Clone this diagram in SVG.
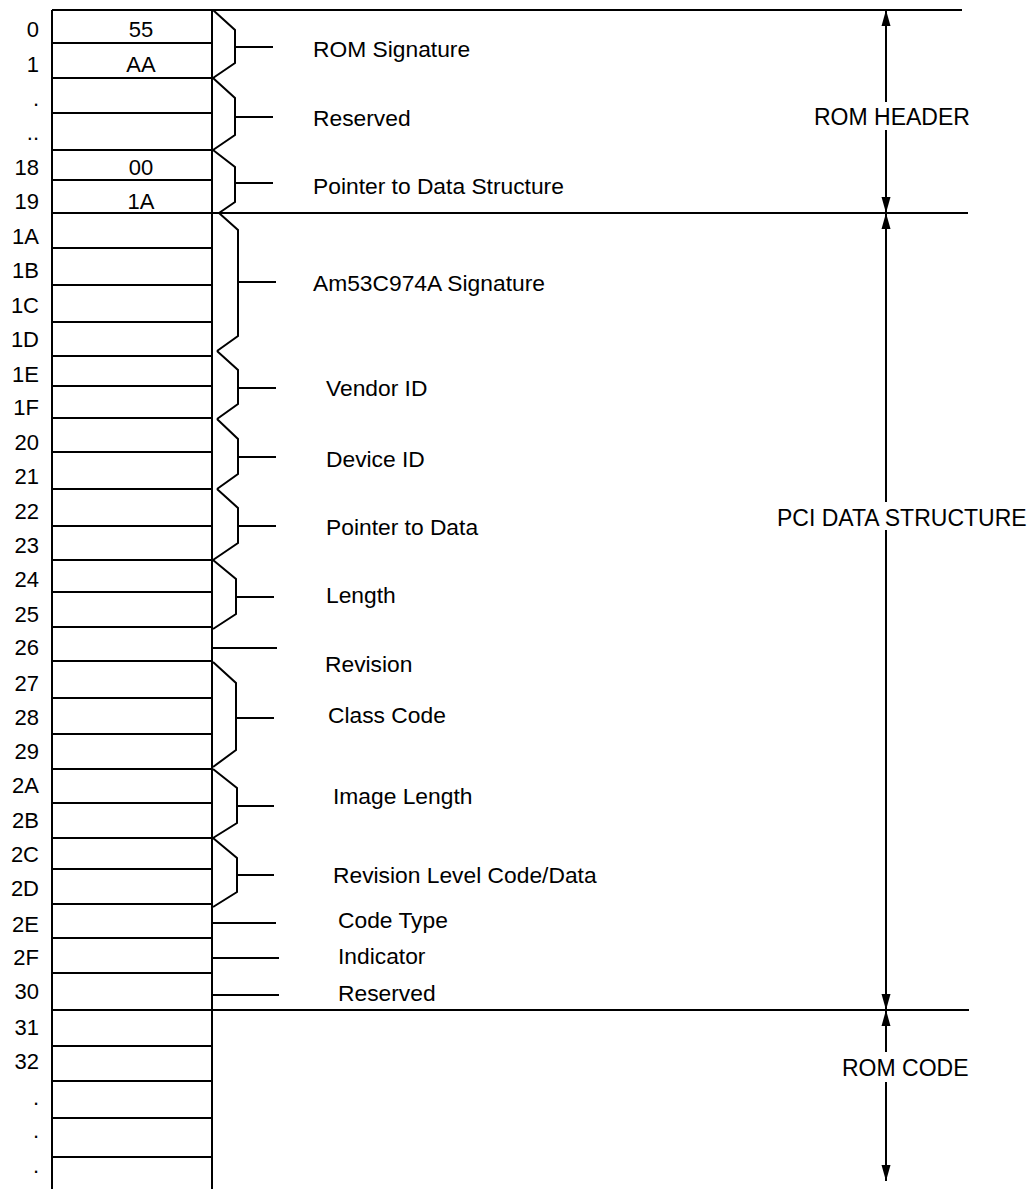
<svg xmlns="http://www.w3.org/2000/svg" width="1036" height="1189" viewBox="0 0 1036 1189">
<style>
  .ln{stroke:#000;stroke-width:2;fill:none}
  .br{stroke:#000;stroke-width:2;fill:none;stroke-linejoin:miter}
  .lab{font-family:"Liberation Sans",Arial,sans-serif;font-size:22.8px;fill:#000}
  .addr{font-family:"Liberation Sans",Arial,sans-serif;font-size:22px;fill:#000;text-anchor:end}
  .val{font-family:"Liberation Sans",Arial,sans-serif;font-size:22px;fill:#000;text-anchor:middle}
  .dim{font-family:"Liberation Sans",Arial,sans-serif;font-size:23px;fill:#000}
</style>
<defs>
  <marker id="ah" markerUnits="userSpaceOnUse" markerWidth="16" markerHeight="10" refX="16" refY="5" orient="auto-start-reverse">
    <path d="M0,0.5 L16,5 L0,9.5 z" fill="#000"/>
  </marker>
</defs>
<rect width="1036" height="1189" fill="#fff"/>

<g id="memory-column">
  <line class="ln" x1="52" y1="10" x2="52" y2="1189"/>
  <line class="ln" x1="212" y1="10" x2="212" y2="1189"/>
  <path class="ln" d="M52,43H212 M52,78H212 M52,113H212 M52,150H212 M52,180H212 M52,248H212 M52,285H212 M52,322H212 M52,356H212 M52,386H212 M52,418H212 M52,452H212 M52,489H212 M52,526H212 M52,560H212 M52,592H212 M52,627H212 M52,661H212 M52,698H212 M52,734H212 M52,769H212 M52,803H212 M52,838H212 M52,869H212 M52,904H212 M52,938H212 M52,973H212 M52,1046H212 M52,1081H212 M52,1118H212 M52,1157H212"/>
  <text class="val" x="141" y="37">55</text>
  <text class="val" x="141" y="72">AA</text>
  <text class="val" x="141" y="175">00</text>
  <text class="val" x="141" y="209">1A</text>
  <text class="addr" x="39" y="37">0</text>
  <text class="addr" x="39" y="72">1</text>
  <text class="addr" x="39" y="106">.</text>
  <text class="addr" x="39" y="140">..</text>
  <text class="addr" x="39" y="175">18</text>
  <text class="addr" x="39" y="209">19</text>
  <text class="addr" x="39" y="244">1A</text>
  <text class="addr" x="39" y="278">1B</text>
  <text class="addr" x="39" y="313">1C</text>
  <text class="addr" x="39" y="347">1D</text>
  <text class="addr" x="39" y="382">1E</text>
  <text class="addr" x="39" y="415">1F</text>
  <text class="addr" x="39" y="450">20</text>
  <text class="addr" x="39" y="484">21</text>
  <text class="addr" x="39" y="519">22</text>
  <text class="addr" x="39" y="553">23</text>
  <text class="addr" x="39" y="587">24</text>
  <text class="addr" x="39" y="622">25</text>
  <text class="addr" x="39" y="655">26</text>
  <text class="addr" x="39" y="691">27</text>
  <text class="addr" x="39" y="725">28</text>
  <text class="addr" x="39" y="759">29</text>
  <text class="addr" x="39" y="793">2A</text>
  <text class="addr" x="39" y="828">2B</text>
  <text class="addr" x="39" y="862">2C</text>
  <text class="addr" x="39" y="896">2D</text>
  <text class="addr" x="39" y="932">2E</text>
  <text class="addr" x="39" y="965">2F</text>
  <text class="addr" x="39" y="999">30</text>
  <text class="addr" x="39" y="1035">31</text>
  <text class="addr" x="39" y="1069">32</text>
  <text class="addr" x="39" y="1105">.</text>
  <text class="addr" x="39" y="1138">.</text>
  <text class="addr" x="39" y="1173">.</text>
</g>

<g id="rom-signature">
  <polyline class="br" points="213,10 235,30 235,63 213,78"/>
  <line class="ln" x1="235" y1="47" x2="273" y2="47"/>
  <text class="lab" x="313" y="57">ROM Signature</text>
</g>
<g id="reserved-header">
  <polyline class="br" points="213,78 235,98 235,135 213,150"/>
  <line class="ln" x1="235" y1="117" x2="273" y2="117"/>
  <text class="lab" x="313" y="126">Reserved</text>
</g>
<g id="pointer-data-structure">
  <polyline class="br" points="213,150 235,167 235,202 219,213"/>
  <line class="ln" x1="235" y1="183" x2="273" y2="183"/>
  <text class="lab" x="313" y="194">Pointer to Data Structure</text>
</g>
<g id="am53c974a-signature">
  <polyline class="br" points="219,213 238,230 238,336 217,351"/>
  <line class="ln" x1="238" y1="282" x2="276" y2="282"/>
  <text class="lab" x="313" y="291">Am53C974A Signature</text>
</g>
<g id="vendor-id">
  <polyline class="br" points="217,351 238,370 238,404 217,419"/>
  <line class="ln" x1="238" y1="388" x2="276" y2="388"/>
  <text class="lab" x="326" y="396">Vendor ID</text>
</g>
<g id="device-id">
  <polyline class="br" points="217,419 238,439 238,474 217,489"/>
  <line class="ln" x1="238" y1="457" x2="276" y2="457"/>
  <text class="lab" x="326" y="467">Device ID</text>
</g>
<g id="pointer-to-data">
  <polyline class="br" points="217,489 238,508 238,543 213,560"/>
  <line class="ln" x1="238" y1="526" x2="276" y2="526"/>
  <text class="lab" x="326" y="535">Pointer to Data</text>
</g>
<g id="length">
  <polyline class="br" points="213,560 236,579 236,614 213,629"/>
  <line class="ln" x1="236" y1="597" x2="274" y2="597"/>
  <text class="lab" x="326" y="603">Length</text>
</g>
<g id="revision">
  <line class="ln" x1="213" y1="648" x2="277" y2="648"/>
  <text class="lab" x="325" y="672">Revision</text>
</g>
<g id="class-code">
  <polyline class="br" points="213,662 236,683 236,750 213,767"/>
  <line class="ln" x1="236" y1="718" x2="274" y2="718"/>
  <text class="lab" x="328" y="723">Class Code</text>
</g>
<g id="image-length">
  <polyline class="br" points="213,769 237,788 237,823 213,838"/>
  <line class="ln" x1="237" y1="806" x2="274" y2="806"/>
  <text class="lab" x="333" y="804">Image Length</text>
</g>
<g id="revision-level">
  <polyline class="br" points="213,838 237,858 237,892 213,907"/>
  <line class="ln" x1="237" y1="875" x2="274" y2="875"/>
  <text class="lab" x="333" y="883">Revision Level Code/Data</text>
</g>
<g id="code-type">
  <line class="ln" x1="213" y1="923" x2="276" y2="923"/>
  <text class="lab" x="338" y="928">Code Type</text>
</g>
<g id="indicator">
  <line class="ln" x1="213" y1="958" x2="279" y2="958"/>
  <text class="lab" x="338" y="964">Indicator</text>
</g>
<g id="reserved-pci">
  <line class="ln" x1="213" y1="995" x2="279" y2="995"/>
  <text class="lab" x="338" y="1001">Reserved</text>
</g>

<g id="connectors">
  <line class="ln" x1="52" y1="10" x2="962" y2="10"/>
  <line class="ln" x1="52" y1="213" x2="968" y2="213"/>
  <line class="ln" x1="52" y1="1010" x2="969" y2="1010"/>
  <line class="ln" x1="886" y1="10" x2="886" y2="102" marker-start="url(#ah)"/>
  <line class="ln" x1="886" y1="130" x2="886" y2="213" marker-end="url(#ah)"/>
  <line class="ln" x1="886" y1="213" x2="886" y2="502" marker-start="url(#ah)"/>
  <line class="ln" x1="886" y1="530" x2="886" y2="1010" marker-end="url(#ah)"/>
  <line class="ln" x1="886" y1="1010" x2="886" y2="1052" marker-start="url(#ah)"/>
  <line class="ln" x1="886" y1="1082" x2="886" y2="1181" marker-end="url(#ah)"/>
</g>

<g id="section-labels">
  <text class="dim" x="814" y="125">ROM HEADER</text>
  <text class="dim" x="777" y="526">PCI DATA STRUCTURE</text>
  <text class="dim" x="842" y="1076">ROM CODE</text>
</g>
</svg>
